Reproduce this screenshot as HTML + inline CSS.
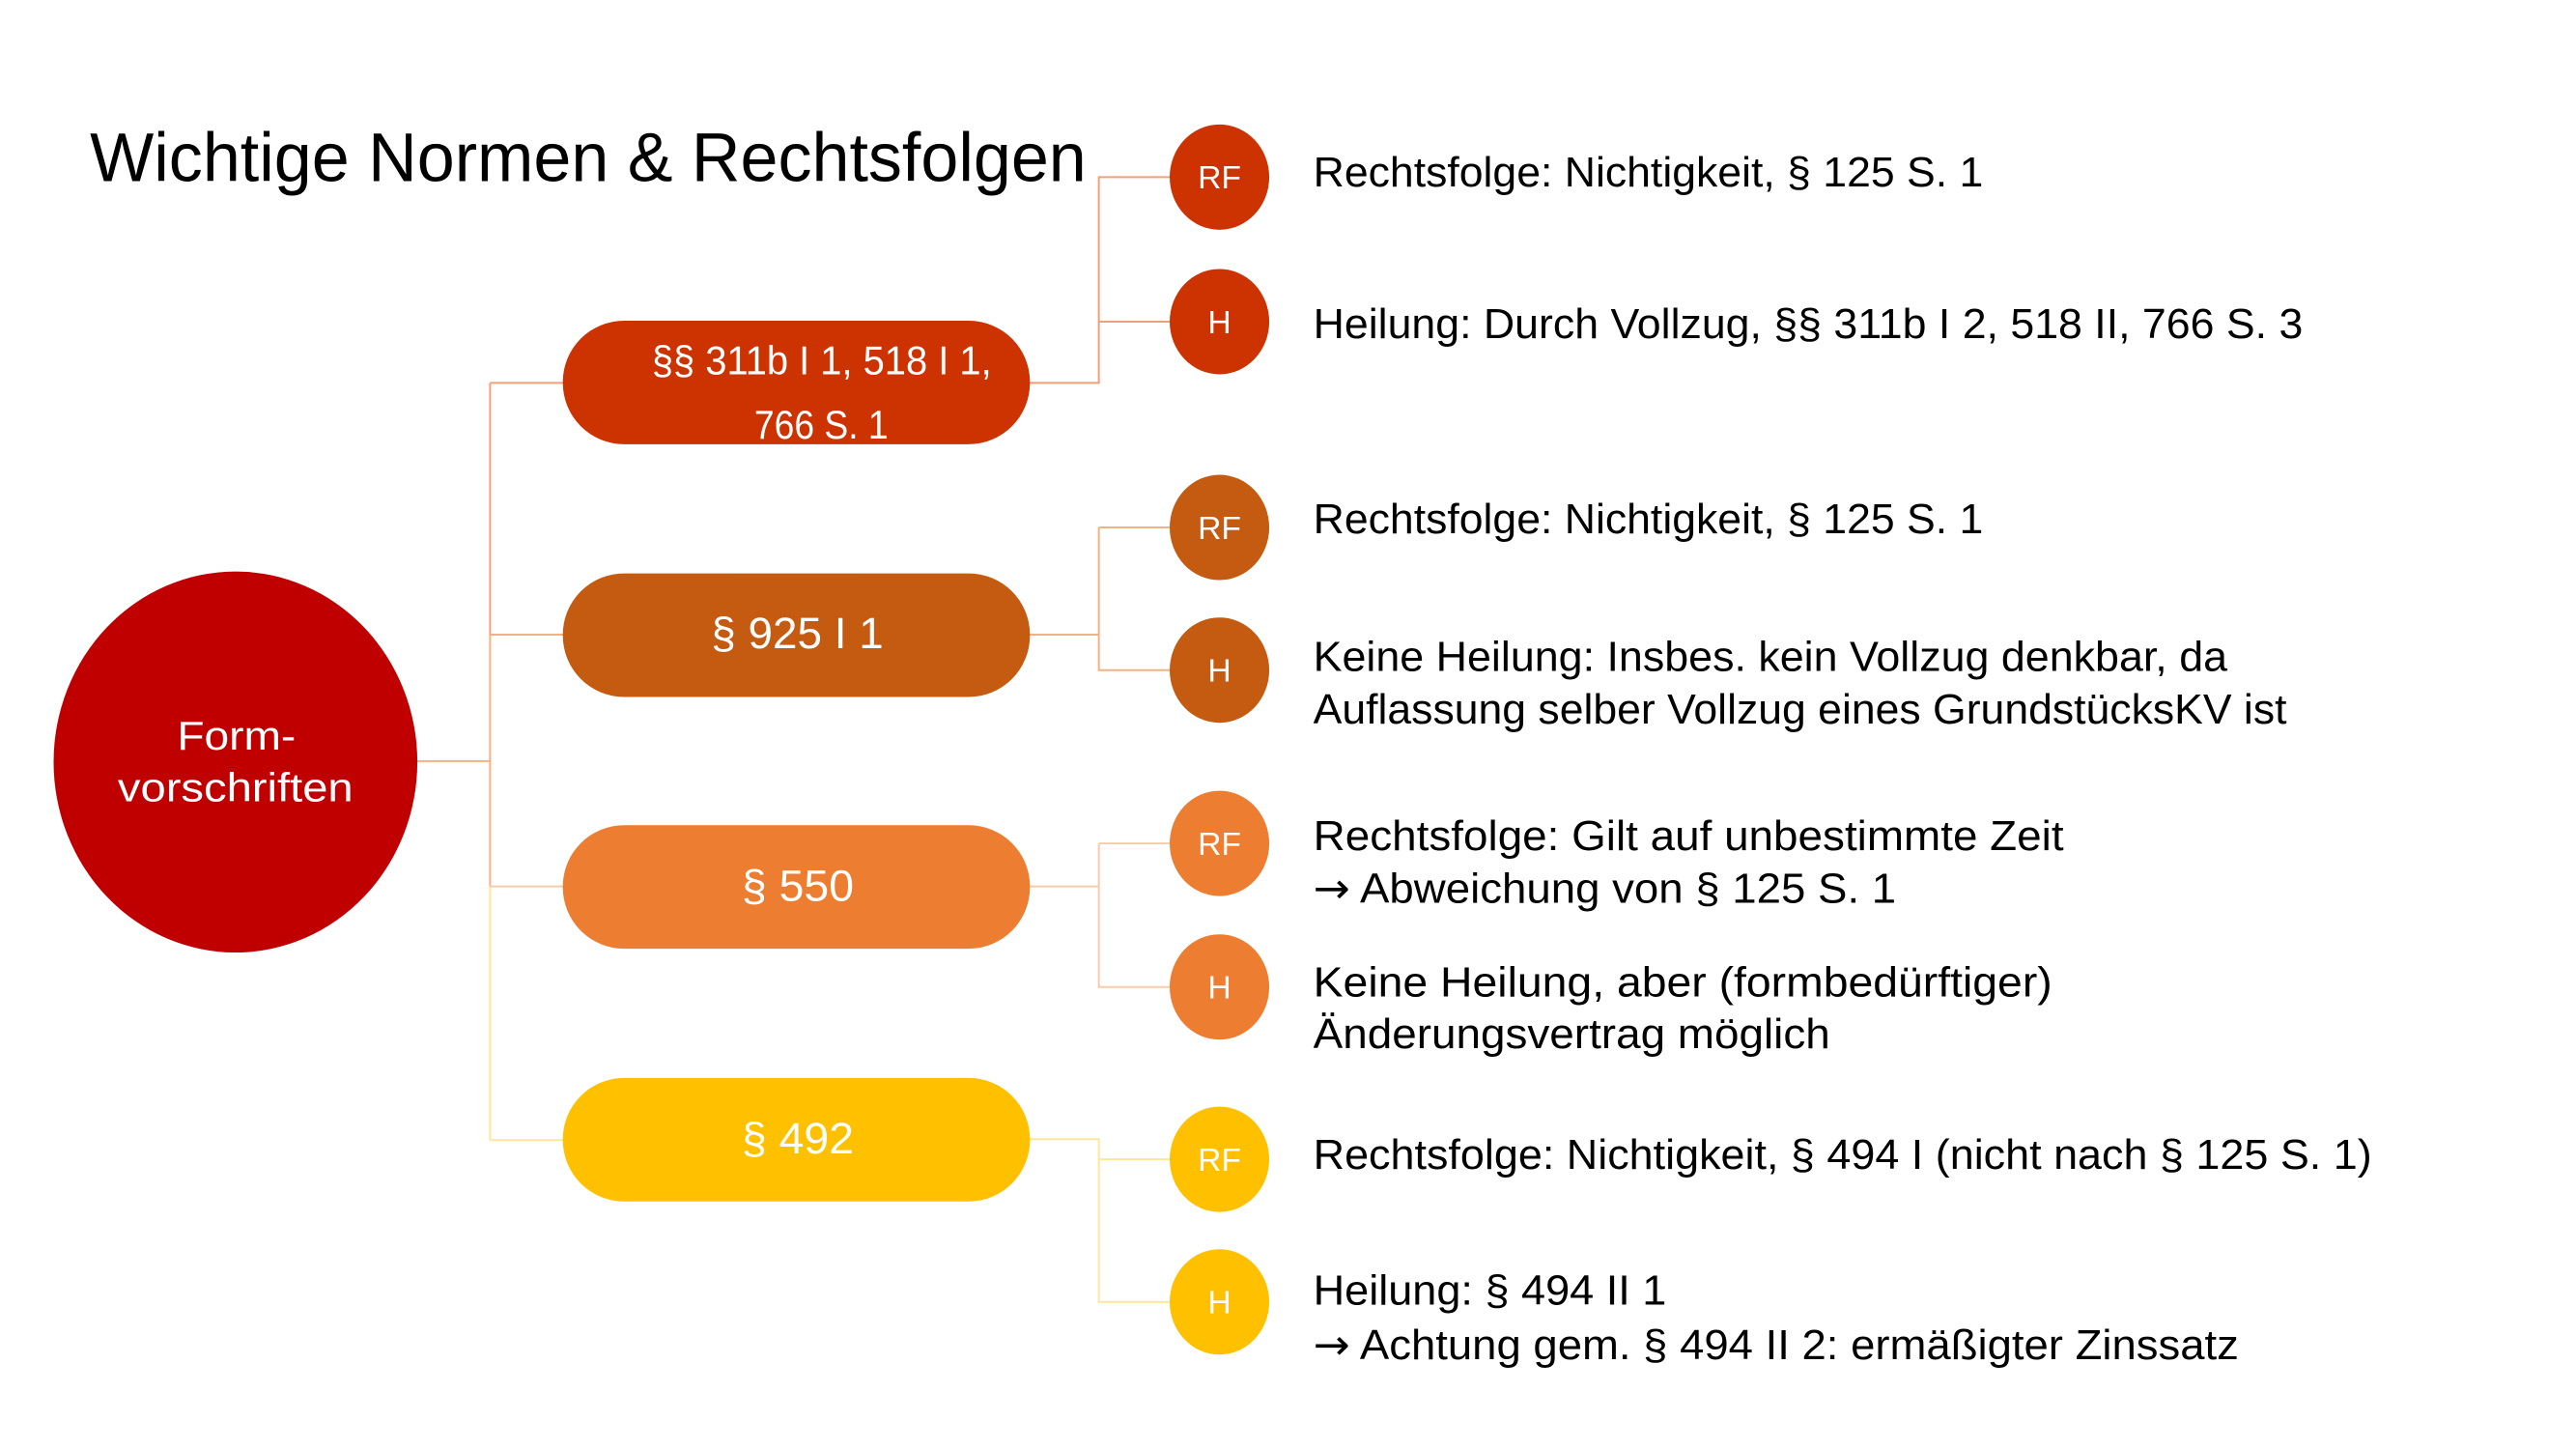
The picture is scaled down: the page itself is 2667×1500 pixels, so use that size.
<!DOCTYPE html>
<html><head><meta charset="utf-8"><style>html,body{margin:0;padding:0;background:#fff}svg{display:block}</style></head>
<body>
<svg width="2667" height="1500" viewBox="0 0 2667 1500" xmlns="http://www.w3.org/2000/svg" font-family="Liberation Sans, sans-serif">
<g transform="scale(0.991)">
<g fill="none" stroke-width="2">
<path d="M436 795H512" stroke="#f4b183"/>
<path d="M512 400V663" stroke="#f1a07a"/>
<path d="M512 663V926" stroke="#f4b183"/>
<path d="M512 926V1191" stroke="#ffe699"/>
<path d="M512 400H590" stroke="#f1a07a"/>
<path d="M512 663H590" stroke="#f4b183"/>
<path d="M512 926H590" stroke="#f8cbad"/>
<path d="M512 1191H590" stroke="#ffe699"/>
<path d="M1074 400H1148V185H1222M1148 336H1222" stroke="#f1a07a"/>
<path d="M1074 663H1148M1148 551H1222V551M1148 551V700H1222" stroke="#f4b183"/>
<path d="M1074 926H1148M1148 881H1222M1148 881V1031H1222" stroke="#f8cbad"/>
<path d="M1074 1190H1148V1360H1222M1148 1211H1222" stroke="#ffe699"/>
</g>
<ellipse cx="246" cy="796" rx="190" ry="199" fill="#c00000"/>
<rect x="588" y="335" width="488" height="129" rx="64" fill="#cc3300"/>
<rect x="588" y="599" width="488" height="129" rx="64" fill="#c55a11"/>
<rect x="588" y="862" width="488" height="129" rx="64" fill="#ed7d31"/>
<rect x="588" y="1126" width="488" height="129" rx="64" fill="#ffc000"/>
<g>
<ellipse cx="1274" cy="185" rx="52" ry="55" fill="#cc3300"/>
<ellipse cx="1274" cy="336" rx="52" ry="55" fill="#cc3300"/>
<ellipse cx="1274" cy="551" rx="52" ry="55" fill="#c55a11"/>
<ellipse cx="1274" cy="700" rx="52" ry="55" fill="#c55a11"/>
<ellipse cx="1274" cy="881" rx="52" ry="55" fill="#ed7d31"/>
<ellipse cx="1274" cy="1031" rx="52" ry="55" fill="#ed7d31"/>
<ellipse cx="1274" cy="1211" rx="52" ry="55" fill="#ffc000"/>
<ellipse cx="1274" cy="1360" rx="52" ry="55" fill="#ffc000"/>
</g>
<g fill="#fff" font-size="34" text-anchor="middle">
<text x="1274" y="197">RF</text><text x="1274" y="348">H</text>
<text x="1274" y="563">RF</text><text x="1274" y="712">H</text>
<text x="1274" y="893">RF</text><text x="1274" y="1043">H</text>
<text x="1274" y="1223">RF</text><text x="1274" y="1372">H</text>
</g>
<text x="94" y="189" font-size="72" textLength="1041" lengthAdjust="spacingAndGlyphs" fill="#000">Wichtige Normen &amp; Rechtsfolgen</text>
<g fill="#fff" font-size="42">
<text x="123" y="783" textLength="124" lengthAdjust="spacingAndGlyphs" transform="translate(62 0)">Form-</text>
<text x="123" y="837" textLength="246" lengthAdjust="spacingAndGlyphs">vorschriften</text>
<text x="681" y="391" textLength="355" lengthAdjust="spacingAndGlyphs">§§ 311b I 1, 518 I 1,</text>
<text x="788" y="458" textLength="140" lengthAdjust="spacingAndGlyphs">766 S. 1</text>
<text x="743" y="677" font-size="46" textLength="180" lengthAdjust="spacingAndGlyphs">§ 925 I 1</text>
<text x="775" y="941" font-size="46" textLength="117" lengthAdjust="spacingAndGlyphs">§ 550</text>
<text x="775" y="1205" font-size="46" textLength="117" lengthAdjust="spacingAndGlyphs">§ 492</text>
</g>
<g fill="#000" font-size="44">
<text x="1372" y="195" textLength="700" lengthAdjust="spacingAndGlyphs">Rechtsfolge: Nichtigkeit, § 125 S. 1</text>
<text x="1372" y="353" textLength="1034" lengthAdjust="spacingAndGlyphs">Heilung: Durch Vollzug, §§ 311b I 2, 518 II, 766 S. 3</text>
<text x="1372" y="557" textLength="700" lengthAdjust="spacingAndGlyphs">Rechtsfolge: Nichtigkeit, § 125 S. 1</text>
<text x="1372" y="701" textLength="955" lengthAdjust="spacingAndGlyphs">Keine Heilung: Insbes. kein Vollzug denkbar, da</text>
<text x="1372" y="756" textLength="1017" lengthAdjust="spacingAndGlyphs">Auflassung selber Vollzug eines GrundstücksKV ist</text>
<text x="1372" y="888" textLength="784" lengthAdjust="spacingAndGlyphs">Rechtsfolge: Gilt auf unbestimmte Zeit</text>
<text x="1372" y="943" textLength="609" lengthAdjust="spacingAndGlyphs"><tspan font-family="DejaVu Sans">→</tspan> Abweichung von § 125 S. 1</text>
<text x="1372" y="1041" textLength="772" lengthAdjust="spacingAndGlyphs">Keine Heilung, aber (formbedürftiger)</text>
<text x="1372" y="1095" textLength="540" lengthAdjust="spacingAndGlyphs">Änderungsvertrag möglich</text>
<text x="1372" y="1221" textLength="1106" lengthAdjust="spacingAndGlyphs">Rechtsfolge: Nichtigkeit, § 494 I (nicht nach § 125 S. 1)</text>
<text x="1372" y="1363" textLength="369" lengthAdjust="spacingAndGlyphs">Heilung: § 494 II 1</text>
<text x="1372" y="1420" textLength="967" lengthAdjust="spacingAndGlyphs"><tspan font-family="DejaVu Sans">→</tspan> Achtung gem. § 494 II 2: ermäßigter Zinssatz</text>
</g>
</g>
</svg>
</body></html>
